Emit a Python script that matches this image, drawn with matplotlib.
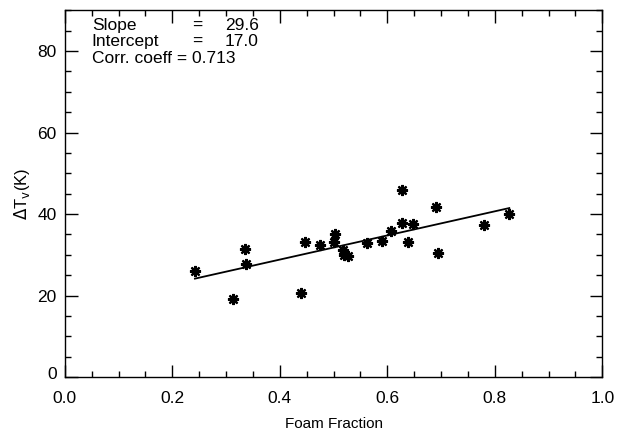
import matplotlib
matplotlib.use("Agg")
import matplotlib.pyplot as plt
import matplotlib.transforms as mtransforms
import numpy as np
from matplotlib.ticker import MultipleLocator

plt.rcParams['font.family'] = ['Liberation Sans', 'DejaVu Sans']

foam_fraction = [0.242, 0.312, 0.335, 0.337, 0.439, 0.446, 0.474, 0.502, 0.501,
                 0.517, 0.520, 0.526, 0.562, 0.590, 0.607, 0.627, 0.628, 0.638,
                 0.647, 0.690, 0.694, 0.780, 0.827]
delta_tv = [26.0, 19.2, 31.4, 27.7, 20.7, 33.2, 32.3, 35.2, 33.2,
            31.1, 30.0, 29.8, 32.8, 33.5, 35.9, 45.8, 37.9, 33.2,
            37.6, 41.7, 30.5, 37.3, 39.9]
slope = 29.6
intercept = 17.0
corr = 0.713
x_ticks = [0.0, 0.2, 0.4, 0.6, 0.8, 1.0]
y_ticks = [0, 20, 40, 60, 80]

fig = plt.figure(figsize=(6.3, 4.3), dpi=100)
ax = fig.add_axes([0.103, 0.123, 0.853, 0.853])

ax.plot(foam_fraction, delta_tv, linestyle='none', marker=(8, 2, 0),
        markersize=8, markeredgewidth=1.6, color='black')
xf = np.array([min(foam_fraction), max(foam_fraction)])
ax.plot(xf, intercept + slope * xf, color='black', linewidth=1.3)

ax.set_xlim(0, 1.0)
ax.set_ylim(0, 90)
ax.set_xticks(x_ticks)
ax.set_xticklabels([f"{v:.1f}" for v in x_ticks])
ax.set_yticks(y_ticks)
ax.set_yticklabels([str(v) for v in y_ticks])
ax.xaxis.set_minor_locator(MultipleLocator(0.05))
ax.yaxis.set_minor_locator(MultipleLocator(5))
ax.tick_params(which='both', direction='in', top=True, right=True, width=1.0)
ax.tick_params(which='major', length=9, labelsize=12.5)
ax.tick_params(axis='x', which='major', pad=10)
ax.tick_params(axis='y', which='major', pad=6)
ax.tick_params(which='minor', length=4.5)
for s in ax.spines.values():
    s.set_linewidth(1.0)

ax.set_xlabel("Foam Fraction", fontsize=11, labelpad=8)
ax.set_ylabel(r"$\Delta$T$_\mathrm{v}$(K)", fontsize=12, labelpad=4)

fs = 12.5
ax.text(0.05, 86.3, "Slope", fontsize=fs, va='center', ha='left')
ax.text(0.246, 86.3, "=", fontsize=fs, va='center', ha='center')
ax.text(0.361, 86.3, f"{slope:.1f}", fontsize=fs, va='center', ha='right')
ax.text(0.05, 82.3, "Intercept", fontsize=fs, va='center', ha='left')
ax.text(0.246, 82.3, "=", fontsize=fs, va='center', ha='center')
ax.text(0.361, 82.3, f"{intercept:.1f}", fontsize=fs, va='center', ha='right')
ax.text(0.05, 78.2, f"Corr. coeff = {corr:.3f}", fontsize=fs, va='center', ha='left')

# raise the "0" label slightly, as in the reference
fig.canvas.draw()
lbl0 = ax.yaxis.get_major_ticks()[0].label1
lbl0.set_transform(lbl0.get_transform() +
                   mtransforms.ScaledTranslation(0, 4 / 100, fig.dpi_scale_trans))

fig.savefig("out.png", dpi=100)
